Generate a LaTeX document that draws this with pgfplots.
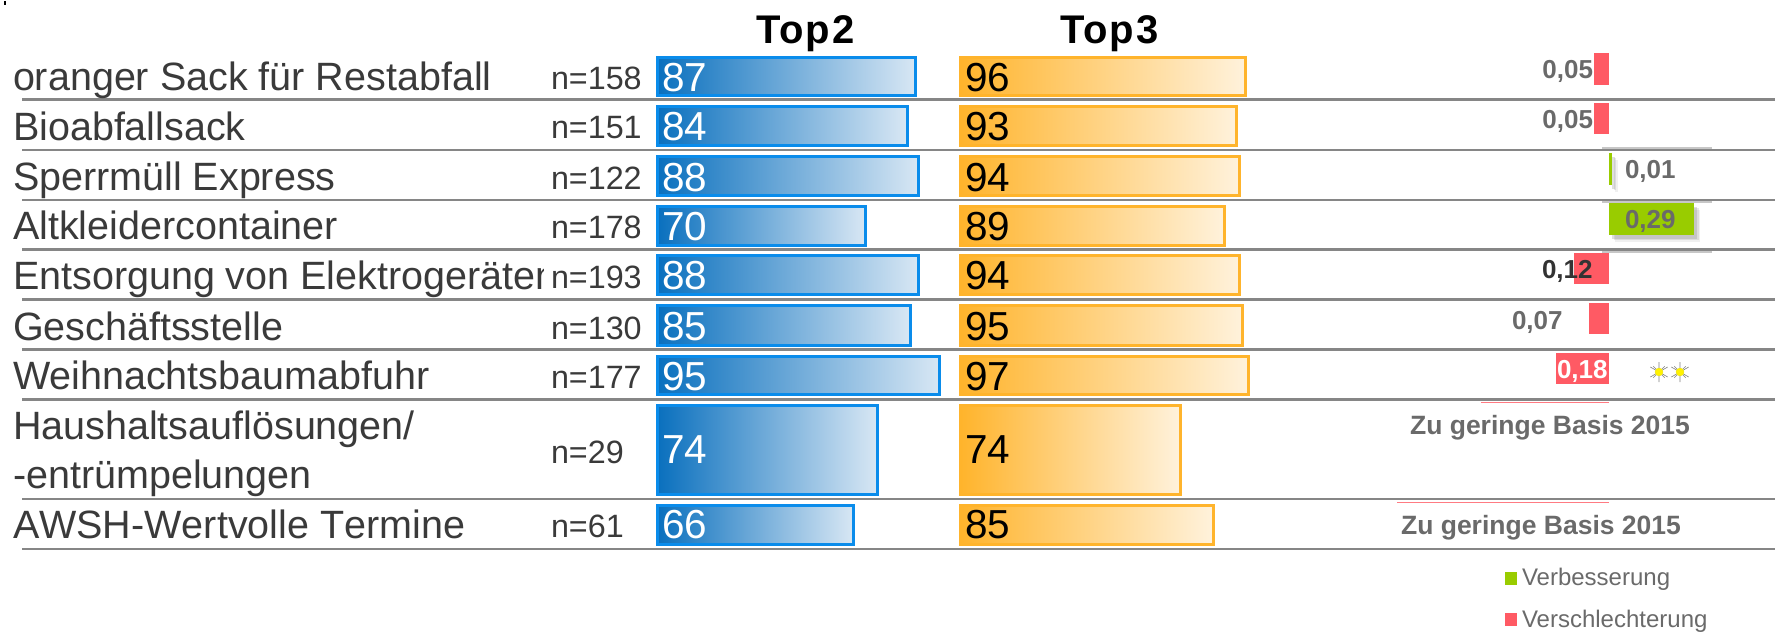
\documentclass[border=0pt]{standalone}
\usepackage{fontspec}
\setmainfont{Liberation Sans}
\usepackage{pgfplots}
\pgfplotsset{compat=1.18}
\usetikzlibrary{shadows}
\definecolor{bluebd}{HTML}{0A8CEB}
\definecolor{bluea}{HTML}{0A70BE}
\definecolor{blueb}{HTML}{D8E7F4}
\definecolor{orgbd}{HTML}{FFB42C}
\definecolor{orga}{HTML}{FFB42C}
\definecolor{orgb}{HTML}{FFF2DC}
\definecolor{redb}{HTML}{FF5A64}
\definecolor{greenb}{HTML}{99CC00}
\definecolor{linegr}{HTML}{868686}
\definecolor{txt}{HTML}{3A3A3A}
\definecolor{lab}{HTML}{6A6A6A}
\newcommand{\fs}[1]{\fontsize{#1pt}{#1pt}\selectfont}
\pgfplotsset{base/.style={hide axis, scale only axis, width=1775pt, height=632pt,
  ymin=0, ymax=632, y dir=reverse, anchor=south west, at={(0,0)}, clip=true}}
\tikzset{t/.style={anchor=base west, inner sep=0pt, outer sep=0pt},
  d/.style={t, font=\fs{26}\bfseries, text=lab}}
% value, y centre, bar width
\newcommand{\tbar}[3]{\addplot[xbar, forget plot, bar shift=0pt, bar width=#3pt, draw=bluebd, line width=3pt, left color=bluea, right color=blueb] coordinates {(#1,#2)};}
\newcommand{\obar}[3]{\addplot[xbar, forget plot, bar shift=0pt, bar width=#3pt, draw=orgbd, line width=3pt, left color=orga, right color=orgb] coordinates {(#1,#2)};}
\newcommand{\dbar}[3]{\addplot[xbar, forget plot, bar shift=0pt, bar width=#3pt, draw=none, fill=redb] coordinates {(#1,#2)};}
\newcommand{\gbar}[3]{\addplot[xbar, forget plot, bar shift=0pt, bar width=#3pt, draw=none, fill=greenb,
  drop shadow={shadow xshift=6pt, shadow yshift=-7pt, opacity=.12},
  drop shadow={shadow xshift=4.5pt, shadow yshift=-5.5pt, opacity=.18},
  drop shadow={shadow xshift=3pt, shadow yshift=-4pt, opacity=.25}] coordinates {(#1,#2)};}
\newcommand{\sep}[1]{\addplot[forget plot, draw=linegr, line width=2.6pt] coordinates {(22,#1) (1775,#1)};}
\newcommand{\cat}[2]{\node[t, text=txt, font=\fs{39.5}] at (axis cs:13,#1) {#2};}
\newcommand{\nn}[2]{\node[t, text=txt, font=\fs{32.3}] at (axis cs:551,#1) {n=#2};}
\newcommand{\vv}[3]{\node[t, text=white, font=\fs{40.5}] at (axis cs:662,#1) {#2};
  \node[t, text=black, font=\fs{40.5}] at (axis cs:965,#1) {#3};}
\begin{document}
\begin{tikzpicture}
\path[use as bounding box] (0,0) rectangle (1775pt,632pt);
% separators: pixel axis
\begin{axis}[base, xmin=0, xmax=1775]
\sep{99.5}\sep{150}\sep{200}\sep{249.5}\sep{299.5}\sep{349.5}\sep{399.5}\sep{499}\sep{549}
\addplot[forget plot, draw=black!22, line width=1.5pt] coordinates {(1602,148) (1712,148)};
\addplot[forget plot, draw=black!22, line width=1.5pt] coordinates {(1602,202) (1712,202)};
\addplot[forget plot, draw=black!22, line width=1.5pt] coordinates {(1602,252) (1712,252)};
\addplot[forget plot, draw=redb!80, line width=1pt] coordinates {(1481,402) (1609,402)};
\addplot[forget plot, draw=redb!80, line width=1pt] coordinates {(1397,502) (1609,502)};
\addplot[forget plot, draw=black, line width=1.5pt] coordinates {(5,1) (5,5)};
\end{axis}
% Top2
\begin{axis}[base, xmin=-221.92, xmax=376.73]
\tbar{87}{76.5}{38}
\tbar{84}{126}{39}
\tbar{88}{176}{39}
\tbar{70}{226}{39}
\tbar{88}{275}{39}
\tbar{85}{325.5}{40}
\tbar{95}{375.5}{38}
\tbar{74}{450}{89}
\tbar{66}{525}{39}
\end{axis}
% Top3
\begin{axis}[base, xmin=-324.11, xmax=274.54]
\obar{96}{76.5}{38}
\obar{93}{126}{39}
\obar{94}{176}{39}
\obar{89}{226}{39}
\obar{94}{275}{39}
\obar{95}{325.5}{40}
\obar{97}{375.5}{38}
\obar{74}{450}{89}
\obar{85}{525}{39}
\end{axis}
% change
\begin{axis}[base, xmin=-5.4915, xmax=0.5666]
\dbar{-0.05}{69}{32}
\dbar{-0.05}{118.5}{31}
\gbar{0.01}{169}{32}
\gbar{0.29}{219}{32}
\dbar{-0.12}{268.5}{31}
\dbar{-0.07}{318.5}{31}
\dbar{-0.18}{368.5}{31}
\end{axis}
% labels
\begin{axis}[base, xmin=0, xmax=1775, clip=false]
\addplot[forget plot, only marks, mark=asterisk, mark size=10pt, mark options={draw=black!50, line width=.6pt}] coordinates {(1659,372) (1680,372)};
\addplot[forget plot, only marks, mark=x, mark size=8pt, mark options={draw=black!50, line width=.6pt}] coordinates {(1659,372) (1680,372)};
\addplot[forget plot, only marks, mark=*, mark size=4pt, mark options={draw=yellow!90!black, fill=yellow, line width=.3pt}] coordinates {(1659,372) (1680,372)};
\fill[greenb] (axis cs:1505,572) rectangle (axis cs:1517,585);
\fill[redb] (axis cs:1505,613) rectangle (axis cs:1517,626);
\node[t, font=\fs{40}\bfseries\addfontfeature{LetterSpace=5}] at (axis cs:756,43.5) {Top2};
\node[t, font=\fs{40}\bfseries\addfontfeature{LetterSpace=5}] at (axis cs:1060,43.5) {Top3};
\cat{90}{oranger Sack für Restabfall}
\cat{140}{Bioabfallsack}
\cat{190}{Sperrmüll Express}
\cat{239}{Altkleidercontainer}
\cat{340}{Geschäftsstelle}
\cat{389}{Weihnachtsbaumabfuhr}
\cat{439}{Haushaltsauflösungen/}
\cat{488}{-entrümpelungen}
\cat{538}{\addfontfeature{Kerning=Off}AWSH-Wertvolle Termine}
\begin{scope}
\clip (axis cs:0,250) rectangle (axis cs:543,298);
\cat{289}{Entsorgung von Elektrogeräten}
\end{scope}
\nn{89}{158}\nn{138}{151}\nn{189}{122}\nn{238}{178}\nn{288}{193}\nn{339}{130}\nn{388}{177}\nn{463}{29}\nn{537}{61}
\vv{91}{87}{96}
\vv{140}{84}{93}
\vv{191}{88}{94}
\vv{240}{70}{89}
\vv{289}{88}{94}
\vv{340}{85}{95}
\vv{390}{95}{97}
\vv{463}{74}{74}
\vv{538}{66}{85}
\node[d, anchor=base east] at (axis cs:1593,78) {0,05};
\node[d, anchor=base east] at (axis cs:1593,128) {0,05};
\node[d] at (axis cs:1625,178) {0,01};
\node[d] at (axis cs:1625,228) {0,29};
\node[d, text=black!80] at (axis cs:1542,278) {0,12};
\node[d] at (axis cs:1512,329) {0,07};
\node[d, text=white] at (axis cs:1557,378) {0,18};
\node[d, font=\fs{26.5}\bfseries, anchor=base] at (axis cs:1550,434) {Zu geringe Basis 2015};
\node[d, font=\fs{26.5}\bfseries, anchor=base] at (axis cs:1541,534) {Zu geringe Basis 2015};
\node[t, text=lab, font=\fs{24}] at (axis cs:1522,585) {Verbesserung};
\node[t, text=lab, font=\fs{24}] at (axis cs:1522,627) {Verschlechterung};
\end{axis}
\end{tikzpicture}
\end{document}
